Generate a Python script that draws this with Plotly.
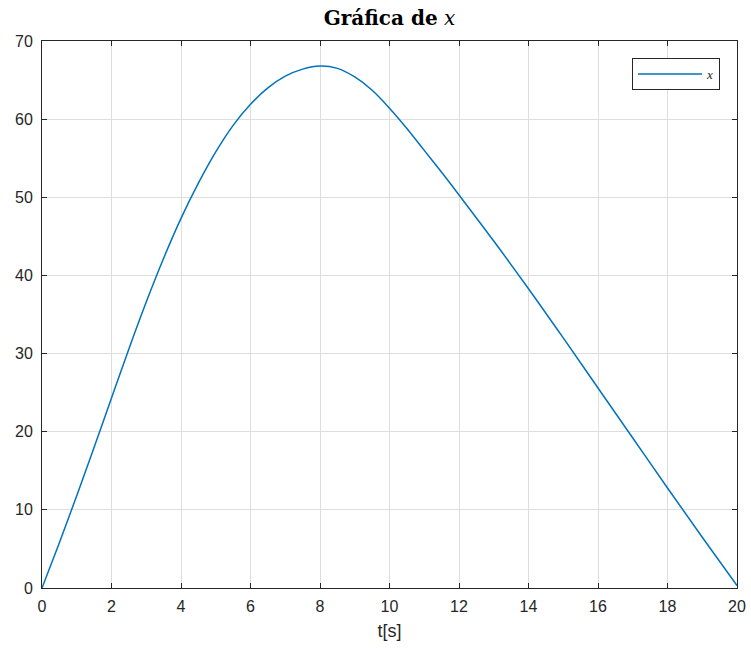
import plotly.graph_objects as go

t_vals = [0, 0.5, 1, 1.5, 2, 2.5, 3, 3.5, 4, 4.5, 5, 5.5, 6, 6.5, 7, 7.5, 8,
          8.5, 9, 9.5, 10, 10.5, 11, 11.5, 12, 13, 14, 15, 16, 17, 18, 19, 20]
x_vals = [0, 5.8, 11.8, 18.0, 24.3, 30.6, 36.6, 42.2, 47.3, 51.8, 55.8, 59.2,
          61.9, 64.0, 65.5, 66.4, 66.8, 66.5, 65.4, 63.7, 61.4, 58.8, 56.0,
          53.2, 50.3, 44.4, 38.3, 32.0, 25.6, 19.2, 12.8, 6.5, 0.3]

x_ticks = [0, 2, 4, 6, 8, 10, 12, 14, 16, 18, 20]
y_ticks = [0, 10, 20, 30, 40, 50, 60, 70]

fig = go.Figure()
fig.add_trace(go.Scatter(
    x=t_vals, y=x_vals, mode="lines", name="<i>x</i>",
    line=dict(color="#0072BD", width=1.5, shape="spline", smoothing=1),
))

axis_common = dict(
    showline=True, linecolor="#262626", linewidth=1, mirror="allticks",
    ticks="inside", ticklen=5, tickcolor="#262626",
    showgrid=True, gridcolor="#dedede", gridwidth=1, zeroline=False,
    automargin=False,
    tickfont=dict(family="Liberation Sans, Arial", size=16, color="#262626"),
)

fig.update_xaxes(range=[0, 20], tickvals=x_ticks, ticktext=[str(v) for v in x_ticks],
                 ticklabelstandoff=4,
                 title=dict(text="t[s]", font=dict(family="Liberation Sans, Arial", size=18, color="#262626"),
                            standoff=10),
                 **axis_common)
fig.update_yaxes(range=[0, 70], tickvals=y_ticks, ticktext=[str(v) for v in y_ticks],
                 ticklabelstandoff=5,
                 **axis_common)

fig.update_layout(
    width=751, height=659,
    margin=dict(l=42, r=14, t=41, b=71),
    paper_bgcolor="white", plot_bgcolor="white",
    title=dict(text="<b>Gráfica de</b> <i>x</i>", x=(42 + 737) / 2 / 751, xanchor="center",
               y=1 - 18 / 659, yanchor="middle",
               font=dict(family="DejaVu Serif, Liberation Serif, serif", size=20, color="black")),
    showlegend=True,
    legend=dict(x=0.9755, y=0.969, xanchor="right", yanchor="top",
                bgcolor="white", bordercolor="#262626", borderwidth=1,
                font=dict(family="Liberation Serif, serif", size=13, color="#262626"),
                itemwidth=64),
)

fig.write_html("out.html")
